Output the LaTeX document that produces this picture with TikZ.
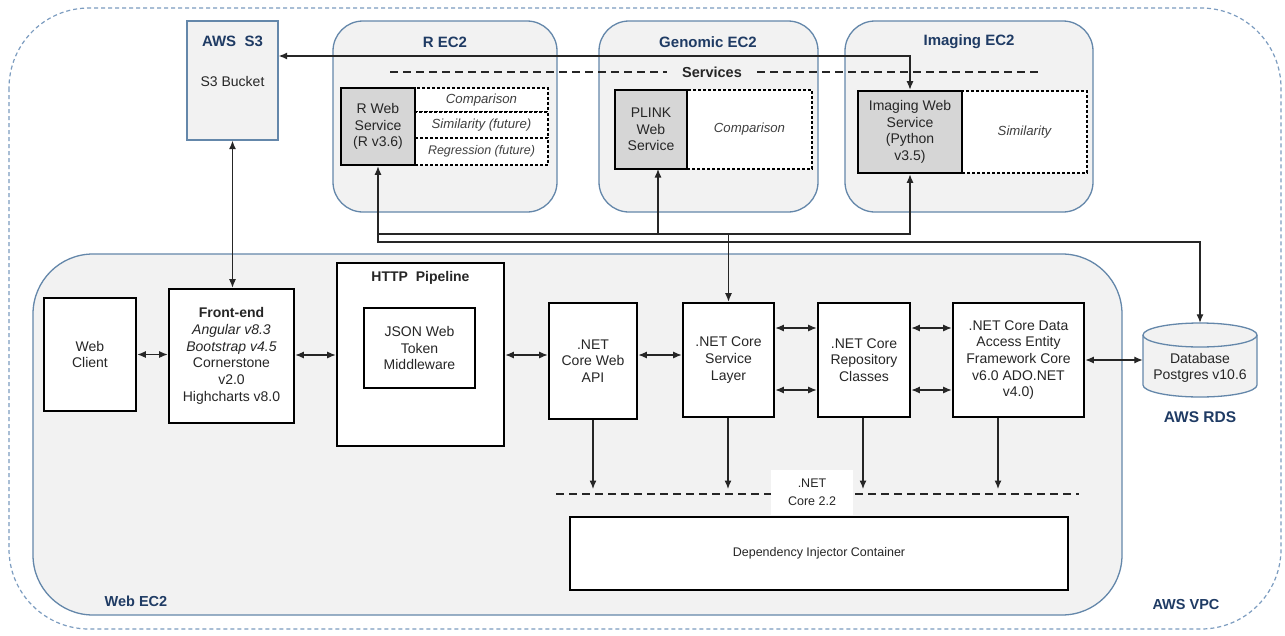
\documentclass[tikz,border=0pt]{standalone}
\usepackage{fontspec}
\setmainfont{Liberation Sans}
\usetikzlibrary{arrows.meta}
\definecolor{bluegray}{HTML}{6487AA}
\definecolor{lightbg}{HTML}{F2F2F2}
\definecolor{svcgray}{HTML}{D6D6D6}
\definecolor{titleblue}{HTML}{1F3B64}
\definecolor{vpcblue}{HTML}{7C9CC0}
\definecolor{txt}{HTML}{262626}
\begin{document}
\begin{tikzpicture}[x=1pt,y=-1pt,
  >={Latex[length=8.5pt,width=7pt]},
  every node/.style={font=\fontsize{14}{16.7}\selectfont, text=txt, align=center, inner sep=0pt},
  blk/.style={draw=black, line width=2.6pt, fill=white},
  svc/.style={draw=black, line width=2.6pt, fill=svcgray},
  dotbox/.style={draw=black, line width=2.8pt, dash pattern=on 2.6pt off 2.4pt, fill=white, font=\fontsize{13.2}{15}\selectfont\itshape, text=black!75},
  ttl/.style={font=\fontsize{15}{18}\selectfont\bfseries, text=titleblue},
  ec2/.style={draw=bluegray, line width=1.3pt, fill=lightbg, rounded corners=30pt},
  conn/.style={line width=1.2pt, draw=black!85},
  sepline/.style={line width=1.3pt, draw=black!85, dash pattern=on 8pt off 5pt}
]
\useasboundingbox (0,0) rectangle (1285,635);
\fill[white] (0,0) rectangle (1285,635);

% outer VPC boundary
\draw[vpcblue, line width=1.2pt, dash pattern=on 4pt off 3pt, rounded corners=80pt] (9,8) rectangle (1281,629);
\node[ttl, font=\fontsize{14.5}{17}\selectfont\bfseries] (vpclbl) at (1186,604) {AWS VPC};

% Web EC2
\draw[bluegray, line width=1.3pt, fill=lightbg, rounded corners=60pt] (33,254) rectangle (1122,615);
\node[ttl, font=\fontsize{14.5}{17}\selectfont\bfseries] (weblbl) at (136,601) {Web EC2};

% top EC2s
\draw[ec2] (333,21) rectangle (557,212);
\draw[ec2] (599,21) rectangle (818,212);
\draw[ec2] (845,21) rectangle (1093,212);
\node[ttl] (rec2) at (445,42) {R EC2};
\node[ttl] (gec2) at (708,42) {Genomic EC2};
\node[ttl] (iec2) at (969,42) {Imaging EC2};

% S3
\node[draw=bluegray, line width=1.3pt, fill=lightbg, minimum width=91, minimum height=119] (s3) at (232.5,80.5) {};
\node[ttl] (s3t) at (232.5,41) {AWS\ \ S3};
\node (s3b) at (232.5,81) {S3 Bucket};

% services separator
\draw[sepline] (390,72) -- (667,72);
\draw[sepline] (757,72) -- (1040,72);
\node[font=\fontsize{14.5}{17}\selectfont\bfseries, text=black!85] (svcl) at (712,72) {Services};

% R services
\node[dotbox, minimum width=133, minimum height=24] (rc) at (481.5,100) {Comparison};
\node[dotbox, minimum width=133, minimum height=26] (rs) at (481.5,125) {Similarity (future)};
\node[dotbox, minimum width=133, minimum height=27, font=\fontsize{12.5}{15}\selectfont\itshape] (rr) at (481.5,151.5) {Regression (future)};
\node[svc, minimum width=74, minimum height=77] (rw) at (378,126.5) {R Web\\Service\\(R v3.6)};

% Genomic services
\node[dotbox, minimum width=125, minimum height=79] (gc) at (749.5,129.5) {Comparison};
\node[svc, minimum width=72, minimum height=79] (pw) at (651,129.5) {PLINK\\Web\\Service};

% Imaging services
\node[dotbox, minimum width=125, minimum height=82] (is) at (1024.5,132) {Similarity};
\node[svc, minimum width=104, minimum height=82] (iw) at (910,132) {Imaging Web\\Service\\(Python\\v3.5)};

% database
\fill[lightbg] (1143,335) -- (1143,385) arc[start angle=180, end angle=0, x radius=57, y radius=12] -- (1257,335) arc[start angle=0, end angle=-180, x radius=57, y radius=12] -- cycle;
\draw[bluegray, line width=1.3pt] (1143,335) -- (1143,385) arc[start angle=180, end angle=0, x radius=57, y radius=12] -- (1257,335);
\draw[bluegray, line width=1.3pt] (1200,335) ellipse [x radius=57, y radius=12];
\node[minimum width=114, minimum height=74] (db) at (1200,360) {};
\node (dbt) at (1200,368) {Database\\Postgres v10.6};
\node[ttl, font=\fontsize{15.5}{18}\selectfont\bfseries] (rds) at (1200,417) {AWS RDS};

% Web EC2 components
\node[blk, minimum width=92, minimum height=113] (wc) at (90,354.5) {Web\\Client};
\node[blk, minimum width=125, minimum height=134] (fe) at (231.5,356) {\textbf{Front-end}\\\textit{Angular v8.3}\\\textit{Bootstrap v4.5}\\Cornerstone\\v2.0\\Highcharts v8.0};
\node[blk, minimum width=167, minimum height=183] (http) at (420.5,354.5) {};
\node[font=\fontsize{14}{16.7}\selectfont\bfseries] (httpt) at (420.5,278) {HTTP\ \ Pipeline};
\node[blk, minimum width=111, minimum height=80] (jwt) at (419.5,348) {JSON Web\\Token\\Middleware};
\node[blk, minimum width=88, minimum height=116] (api) at (593,361) {.NET\\Core Web\\API};
\node[blk, minimum width=91, minimum height=114] (sl) at (728.5,360) {.NET Core\\Service\\Layer};
\node[blk, minimum width=92, minimum height=114] (rp) at (864,360) {.NET Core\\Repository\\Classes};
\node[blk, minimum width=131, minimum height=114] (da) at (1018.5,360) {.NET Core Data\\Access Entity\\Framework Core\\v6.0 ADO.NET\\v4.0)};
\node[blk, minimum width=498, minimum height=73, font=\fontsize{12.5}{15}\selectfont] (di) at (819,553.5) {Dependency Injector Container};

% core separator
\draw[sepline] (556,494) -- (1079,494);
\node[fill=white, minimum width=82, minimum height=45, font=\fontsize{12.5}{18}\selectfont] (core) at (812,492) {.NET\\Core 2.2};

\coordinate (e1) at (593,489);
\coordinate (e2) at (728,489);
\coordinate (e3) at (863,489);
\coordinate (e4) at (998,489);
\draw[conn,->] (api.south) -- (e1);
\draw[conn,->] (sl.south -| e2) -- (e2);
\draw[conn,->] (rp.south -| e3) -- (e3);
\draw[conn,->] (da.south -| e4) -- (e4);

% horizontal links
\draw[conn,<->] (wc.east) -- (wc.east -| fe.west);
\draw[conn,<->] (fe.east |- 0,355) -- (http.west |- 0,355);
\draw[conn,<->] (http.east |- 0,355) -- (api.west |- 0,355);
\draw[conn,<->] (api.east |- 0,355) -- (sl.west |- 0,355);
\draw[conn,<->] (sl.east |- 0,328) -- (rp.west |- 0,328);
\draw[conn,<->] (sl.east |- 0,390) -- (rp.west |- 0,390);
\draw[conn,<->] (rp.east |- 0,328) -- (da.west |- 0,328);
\draw[conn,<->] (rp.east |- 0,390) -- (da.west |- 0,390);
\draw[conn,<->] (da.east) -- (db.west);

% S3 links
\draw[conn,<->] (s3.south) -- (s3.south |- fe.north);
\draw[conn,<->] (s3.east |- 0,56) -| (iw.north);

% service links
\draw[conn,<->] (rw.south) -- (rw.south |- 0,242) -| (db.north);
\draw[conn,->] (rw.south |- 0,234) -| (iw.south);
\coordinate (pws) at (658,169);
\draw[conn,<->] (pws) -- (pws |- 0,234) -| (sl.north);
\end{tikzpicture}
\end{document}
